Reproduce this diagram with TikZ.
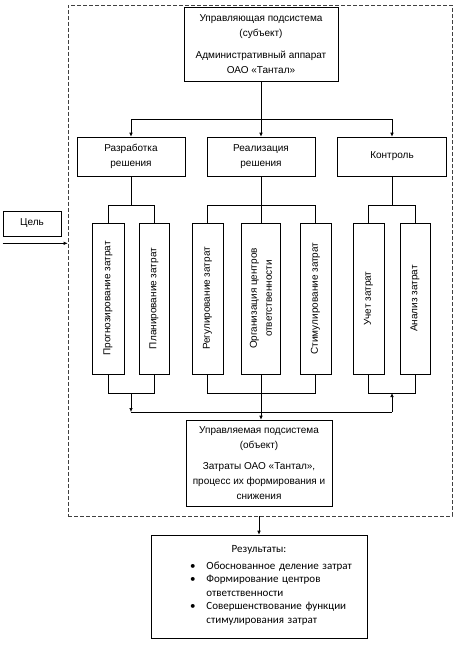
\documentclass[tikz,border=0pt]{standalone}
\usepackage{fontspec}
\setmainfont{Liberation Sans}
\newfontfamily\calib{Carlito}
\usepackage{tikz}
\usetikzlibrary{positioning,arrows.meta,calc}
\tikzset{
  blk/.style  = {draw, line width=0.6pt, align=center, inner sep=2pt,
                 font=\fontsize{10}{15}\selectfont},
  vblk/.style = {blk, rotate=90, minimum width=151, minimum height=31},
  frm/.style  = {draw=black!75, dashed, line width=0.6pt,
                 dash pattern=on 4pt off 2pt},
  resbox/.style = {draw, line width=0.6pt, align=left, inner sep=4pt,
                 font=\calib\fontsize{11}{13.5}\selectfont},
  ar/.style   = {-{Latex[length=4pt,width=3.5pt]}, line width=0.6pt},
  ln/.style   = {line width=0.6pt},
}
\begin{document}
\begin{tikzpicture}[x=1pt,y=-1pt]
  \useasboundingbox (0,0) rectangle (468,645);

  % --- system frame ---
  \node[frm, minimum width=384, minimum height=511] (sys) at (260,260.5) {};

  % --- managing subsystem ---
  \node[blk, minimum width=154, minimum height=74] (subj) at (261,44)
       {Управляющая подсистема\\(субъект)\\[7pt]
        Административный аппарат\\ОАО «Тантал»};

  \node[blk, minimum width=108, minimum height=39] (dev)  at (131,156.5)
       {Разработка\\решения};
  \node[blk, minimum width=108, minimum height=39] (impl) at (261,156.5)
       {Реализация\\решения};
  \node[blk, minimum width=109, minimum height=39] (chk)  at (392,156.5)
       {Контроль};

  % --- functions ---
  \node[vblk, minimum height=32] (fcst) at (108,298.5) {Прогнозирование затрат};
  \node[vblk, minimum height=30] (plan) at (154,298.5) {Планирование затрат};
  \node[vblk] (reg)  at (207.5,298.5) {Регулирование затрат};
  \node[vblk, minimum height=39] (org) at (261,298.5)
       {Организация центров\\ответственности};
  \node[vblk] (stim) at (315.5,298.5) {Стимулирование затрат};
  \node[vblk] (acct) at (368.5,298.5) {Учет затрат};
  \node[vblk, minimum height=30] (anal) at (415,298.5) {Анализ затрат};

  % --- managed subsystem ---
  \node[blk, minimum width=146, minimum height=86] (obj) at (259,463)
       {Управляемая подсистема\\(объект)\\[6pt]
        Затраты ОАО «Тантал»,\\процесс их формирования и\\снижения};

  \node[blk, minimum width=58, minimum height=25] (goal) at (32,223.5) {Цель};

  \node[resbox, minimum width=216, minimum height=103, text width=208pt]
       (res) at (259,586.5)
       {\makebox[\linewidth]{Результаты:}\\[4pt]
        \hspace*{35pt}\begin{tabular}{@{}l@{\hspace{11pt}}l@{}}
          \textbullet & Обоснованное деление затрат\\
          \textbullet & Формирование центров\\
                      & ответственности\\
          \textbullet & Совершенствование функции\\
                      & стимулирования затрат
        \end{tabular}};

  % --- connectors ---
  \coordinate (top) at (261,119);
  \coordinate (up)  at (0,205);
  \coordinate (dn)  at (0,393);
  \coordinate (bus) at (0,412);

  \draw[ln] (subj.south) -- (top);
  \draw[ln] (dev.north |- top) -- (chk.north |- top);
  \foreach \n in {dev,impl,chk}
    \draw[ar] (\n.north |- top) -- (\n.north);

  \foreach \g/\a/\b in {dev/fcst/plan,impl/reg/stim,chk/acct/anal}{
    \draw[ln] (\g.south) -- (\g.south |- up);
    \draw[ln] (\a.east) -- (\a.east |- up) -- (\b.east |- up) -- (\b.east);
    \draw[ln] (\a.west) -- (\a.west |- dn) -- (\b.west |- dn) -- (\b.west);
  }
  \draw[ln] (org.east) -- (org.east |- up);

  \draw[ln] (dev.south |- bus) -- (chk.south |- bus);
  \draw[ar] (dev.south |- dn) -- (dev.south |- bus);
  \draw[ar] (chk.south |- bus) -- (chk.south |- dn);
  \draw[ar] (org.west) -- (org.west |- obj.north);

  \draw[ar] (res.north |- sys.south) -- (res.north);

  \coordinate (gin) at ($(goal.south west)+(0,7)$);
  \draw[ar] (gin) -- (gin -| sys.west);
\end{tikzpicture}
\end{document}
